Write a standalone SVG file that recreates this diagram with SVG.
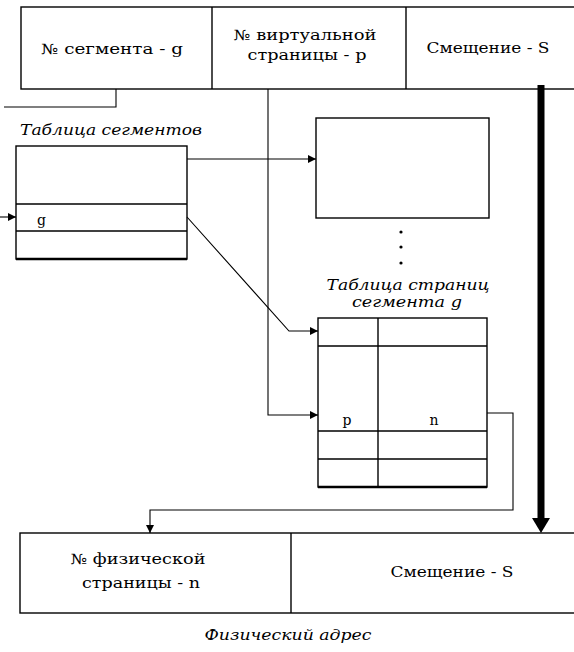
<svg xmlns="http://www.w3.org/2000/svg" width="574" height="652" viewBox="0 0 574 652">
  <style>
    .box { fill: #fff; stroke: #000; stroke-width: 1.4; }
    .rule { stroke: #000; stroke-width: 1.4; fill: none; }
    .base { stroke: #000; stroke-width: 2.6; }
    .wire { stroke: #000; stroke-width: 1.1; fill: none; }
    .t { font-family: "DejaVu Serif", "Liberation Serif", serif; font-size: 14px; fill: #000; }
    .cap { font-family: "DejaVu Serif", "Liberation Serif", serif; font-style: italic; font-size: 14px; fill: #000; }
    .mid { text-anchor: middle; }
  </style>
  <defs>
    <marker id="tip" markerUnits="userSpaceOnUse" markerWidth="9" markerHeight="8" refX="8" refY="4" orient="auto">
      <path d="M0,0 L8,4 L0,8 Z" fill="#000"/>
    </marker>
  </defs>

  <rect width="574" height="652" fill="#fff"/>

  <!-- virtual address word: segment | page | offset -->
  <g id="virtual-address">
    <rect class="box" x="21" y="7" width="570" height="82"/>
    <line class="rule" x1="212" y1="7" x2="212" y2="89"/>
    <line class="rule" x1="406" y1="7" x2="406" y2="89"/>
    <text class="t mid" x="112" y="54" textLength="142" lengthAdjust="spacingAndGlyphs">№ сегмента - g</text>
    <text class="t mid" x="305" y="40" textLength="143" lengthAdjust="spacingAndGlyphs">№ виртуальной</text>
    <text class="t mid" x="307" y="60" textLength="119" lengthAdjust="spacingAndGlyphs">страницы - p</text>
    <text class="t mid" x="488" y="53" textLength="123" lengthAdjust="spacingAndGlyphs">Смещение - S</text>
  </g>

  <!-- segment table -->
  <g id="segment-table">
    <text class="cap" x="20" y="135" textLength="182" lengthAdjust="spacingAndGlyphs">Таблица сегментов</text>
    <rect class="box" x="16" y="146" width="171" height="113"/>
    <line class="rule" x1="16" y1="204" x2="187" y2="204"/>
    <line class="rule" x1="16" y1="231" x2="187" y2="231"/>
    <line class="base" x1="16" y1="259" x2="187" y2="259"/>
    <text class="t" x="37" y="225">g</text>
  </g>

  <!-- page table of another segment -->
  <g id="other-page-table">
    <rect class="box" x="316" y="118" width="173" height="100"/>
    <circle cx="401" cy="232" r="1.6" fill="#000"/>
    <circle cx="401" cy="247" r="1.6" fill="#000"/>
    <circle cx="401" cy="263" r="1.6" fill="#000"/>
  </g>

  <!-- page table of segment g -->
  <g id="page-table">
    <text class="cap mid" x="408" y="290" textLength="163" lengthAdjust="spacingAndGlyphs">Таблица страниц</text>
    <text class="cap mid" x="407" y="307" textLength="110" lengthAdjust="spacingAndGlyphs">сегмента g</text>
    <rect class="box" x="318" y="318" width="169" height="169"/>
    <line class="rule" x1="378" y1="318" x2="378" y2="487"/>
    <line class="rule" x1="318" y1="346" x2="487" y2="346"/>
    <line class="rule" x1="318" y1="431" x2="487" y2="431"/>
    <line class="rule" x1="318" y1="459" x2="487" y2="459"/>
    <line class="base" x1="318" y1="487" x2="487" y2="487"/>
    <text class="t mid" x="347" y="425">p</text>
    <text class="t mid" x="434" y="425">n</text>
  </g>

  <!-- physical address word -->
  <g id="physical-address">
    <rect class="box" x="20" y="533" width="570" height="80"/>
    <line class="rule" x1="291" y1="533" x2="291" y2="613"/>
    <text class="t mid" x="138" y="564" textLength="135" lengthAdjust="spacingAndGlyphs">№ физической</text>
    <text class="t mid" x="141" y="588" textLength="118" lengthAdjust="spacingAndGlyphs">страницы - n</text>
    <text class="t mid" x="452" y="577" textLength="123" lengthAdjust="spacingAndGlyphs">Смещение - S</text>
    <text class="cap mid" x="288" y="640" textLength="167" lengthAdjust="spacingAndGlyphs">Физический адрес</text>
  </g>

  <!-- connectors -->
  <g id="connectors">
    <polyline class="wire" points="116,89 116,107 4,107"/>
    <line class="wire" x1="0" y1="217" x2="16" y2="217" marker-end="url(#tip)"/>
    <line class="wire" x1="187" y1="159" x2="316" y2="159" marker-end="url(#tip)"/>
    <polyline class="wire" points="187,217 289,331 318,331" marker-end="url(#tip)"/>
    <polyline class="wire" points="268,89 268,415 318,415" marker-end="url(#tip)"/>
    <polyline class="wire" points="487,413 513,413 513,510 150,510 150,533" marker-end="url(#tip)"/>
    <line x1="541" y1="85" x2="541" y2="521" stroke="#000" stroke-width="7"/>
    <path d="M532,518 L550,518 L541,533 Z" fill="#000"/>
  </g>
</svg>
